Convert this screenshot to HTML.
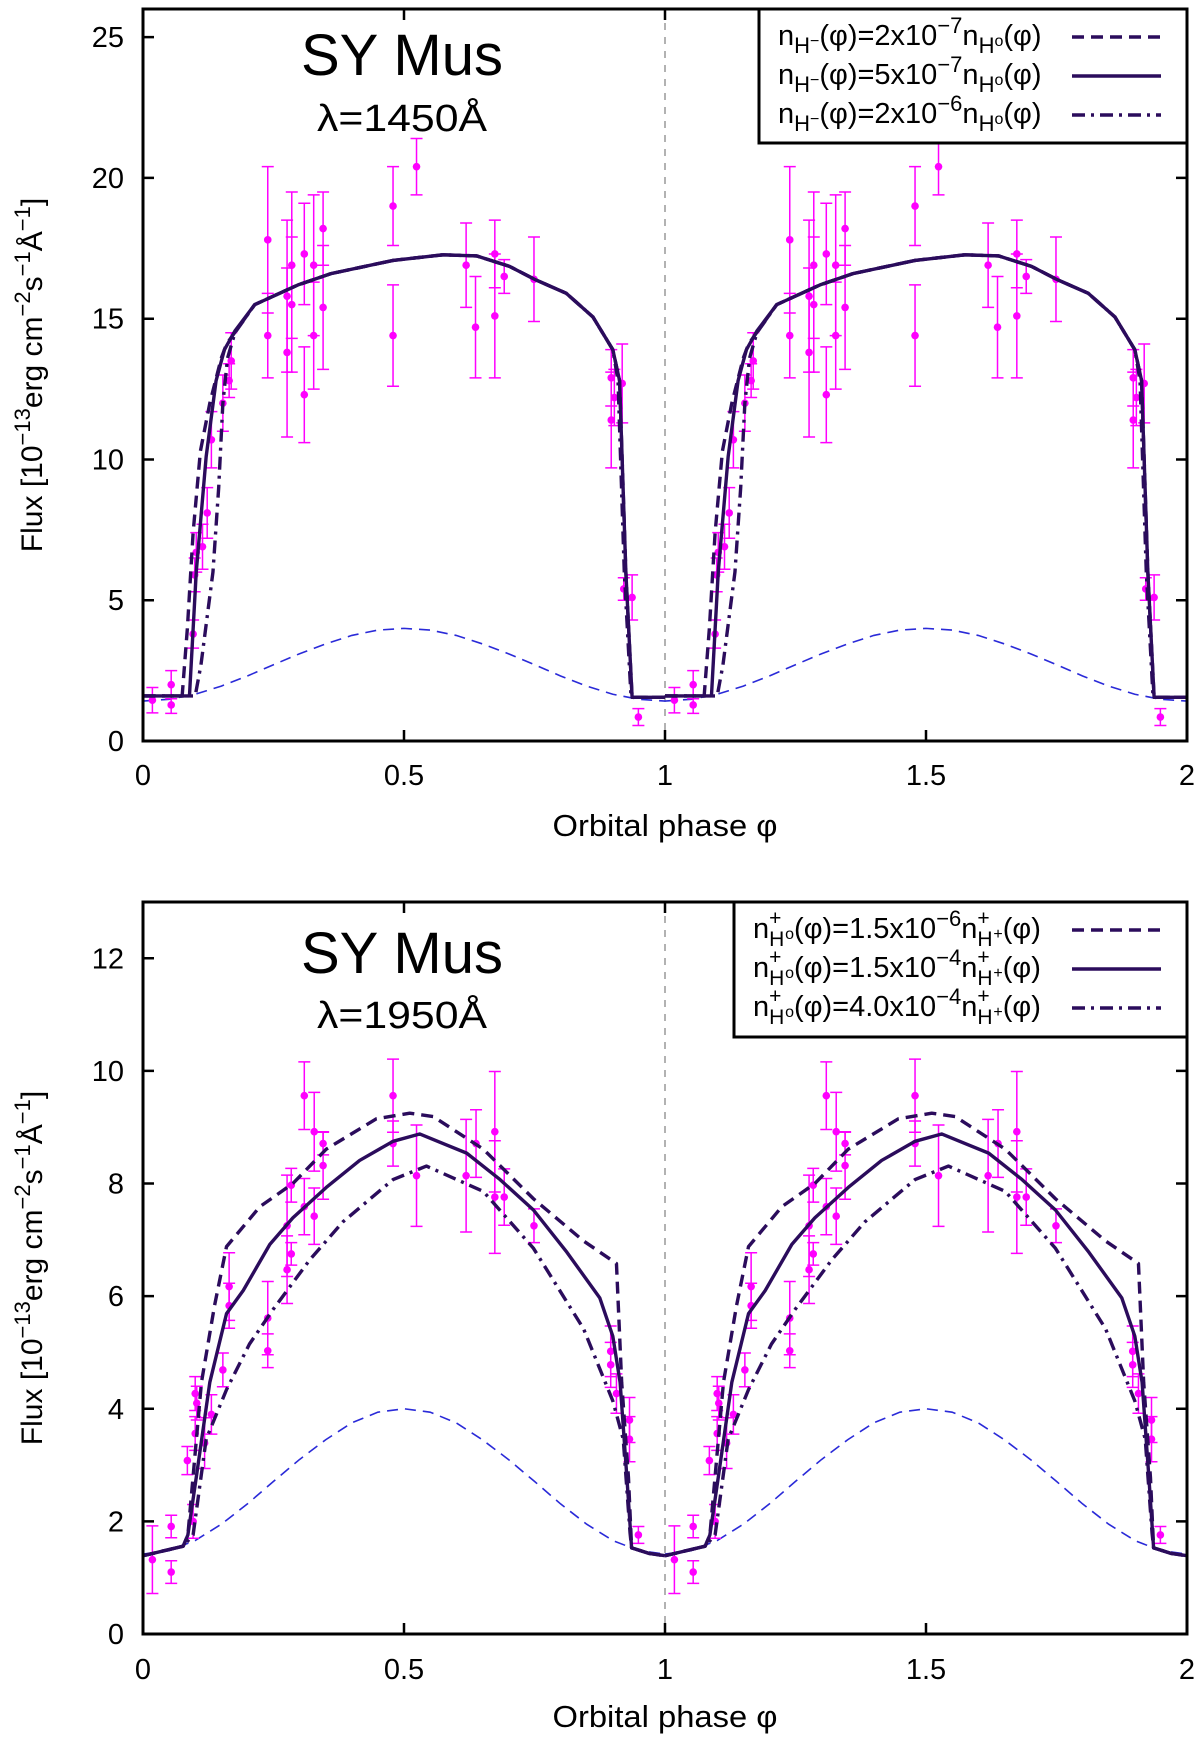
<!DOCTYPE html>
<html><head><meta charset="utf-8">
<style>
html,body{margin:0;padding:0;background:#fff;}
#wrap{position:relative;width:1200px;height:1740px;overflow:hidden;font-family:"Liberation Sans",sans-serif;}
svg{position:absolute;left:0;top:0;}
.leg{position:absolute;font-size:29px;line-height:29px;white-space:nowrap;color:#000;}
.leg sub{font-size:22px;vertical-align:-8px;line-height:0;}
.leg sup{font-size:22px;vertical-align:12px;line-height:0;}
.stk{display:inline-block;position:relative;width:16px;height:10px;}
.stk .p{position:absolute;left:0;top:-24px;font-size:21px;}
.stk .h{position:absolute;left:0;top:-3px;font-size:21px;}
</style></head>
<body>
<div id="wrap">
<svg id="chart" width="1200" height="1740" viewBox="0 0 1200 1740"></svg>

<div class="leg" style="left:778px;top:22px;">n<sub>H<sup style="font-size:16px;vertical-align:7px">−</sup></sub>(φ)=2x10<sup>−7</sup>n<sub>H<sup style="font-size:16px;vertical-align:7px">o</sup></sub>(φ)</div>
<div class="leg" style="left:778px;top:61px;">n<sub>H<sup style="font-size:16px;vertical-align:7px">−</sup></sub>(φ)=5x10<sup>−7</sup>n<sub>H<sup style="font-size:16px;vertical-align:7px">o</sup></sub>(φ)</div>
<div class="leg" style="left:778px;top:100px;">n<sub>H<sup style="font-size:16px;vertical-align:7px">−</sup></sub>(φ)=2x10<sup>−6</sup>n<sub>H<sup style="font-size:16px;vertical-align:7px">o</sup></sub>(φ)</div>

<div class="leg" style="left:753px;top:915px;">n<span class="stk"><span class="p">+</span><span class="h">H</span></span><sup style="font-size:16px;vertical-align:-1px">o</sup>(φ)=1.5x10<sup>−6</sup>n<span class="stk"><span class="p">+</span><span class="h">H</span></span><sup style="font-size:16px;vertical-align:-1px">+</sup>(φ)</div>
<div class="leg" style="left:753px;top:954px;">n<span class="stk"><span class="p">+</span><span class="h">H</span></span><sup style="font-size:16px;vertical-align:-1px">o</sup>(φ)=1.5x10<sup>−4</sup>n<span class="stk"><span class="p">+</span><span class="h">H</span></span><sup style="font-size:16px;vertical-align:-1px">+</sup>(φ)</div>
<div class="leg" style="left:753px;top:993px;">n<span class="stk"><span class="p">+</span><span class="h">H</span></span><sup style="font-size:16px;vertical-align:-1px">o</sup>(φ)=4.0x10<sup>−4</sup>n<span class="stk"><span class="p">+</span><span class="h">H</span></span><sup style="font-size:16px;vertical-align:-1px">+</sup>(φ)</div>
</div>

<script>
// ---------- DATA (one orbital period, repeated at phase+1) ----------
const xTicks = [0, 0.5, 1, 1.5, 2];
const xTickLabels = ["0", "0.5", "1", "1.5", "2"];
const topYTicks = [0, 5, 10, 15, 20, 25];
const botYTicks = [0, 2, 4, 6, 8, 10, 12];

// Blue dashed reference curve (same in both panels)
const bluePhase = [0,0.05,0.1,0.15,0.2,0.25,0.3,0.35,0.4,0.45,0.5,0.55,0.6,0.65,0.7,0.75,0.8,0.85,0.9,0.95,1];
const blueFlux  = [1.42,1.48,1.66,1.95,2.31,2.71,3.1,3.45,3.75,3.94,4.0,3.94,3.75,3.45,3.1,2.71,2.31,1.95,1.66,1.48,1.42];

// Top panel (λ=1450Å) models
const topDashPhase  = [0,0.075,0.085,0.096,0.11,0.128,0.15,0.16,0.214,0.297,0.36,0.479,0.575,0.639,0.702,0.75,0.811,0.862,0.9,0.913,0.925,0.937,1];
const topDashFlux   = [1.6,1.6,4.0,7.4,10.3,12.0,13.6,14.1,15.5,16.2,16.6,17.07,17.27,17.23,16.86,16.4,15.9,15.06,13.9,12.8,6.0,1.55,1.55];
const topSolidPhase = [0,0.089,0.102,0.121,0.14,0.156,0.176,0.214,0.297,0.36,0.479,0.575,0.639,0.702,0.75,0.811,0.862,0.9,0.913,0.925,0.937,1];
const topSolidFlux  = [1.6,1.6,6.0,10.1,12.8,13.9,14.56,15.5,16.2,16.6,17.07,17.27,17.23,16.86,16.4,15.9,15.06,13.9,12.8,6.0,1.55,1.55];
const topDDPhase    = [0,0.1,0.111,0.134,0.145,0.153,0.162,0.176,0.214,0.297,0.36,0.479,0.575,0.639,0.702,0.75,0.811,0.862,0.9,0.91,0.922,0.935,1];
const topDDFlux     = [1.6,1.6,2.7,6.0,9.0,12.0,13.6,14.5,15.5,16.2,16.6,17.07,17.27,17.23,16.86,16.4,15.9,15.06,13.9,12.8,6.0,1.55,1.55];

// Top panel observations
const topObsPhase = [0.018,0.054,0.054,0.096,0.099,0.102,0.114,0.123,0.131,0.153,0.165,0.169,0.239,0.239,0.276,0.276,0.285,0.285,0.309,0.309,0.327,0.327,0.345,0.345,0.479,0.479,0.524,0.619,0.637,0.674,0.674,0.692,0.749,0.897,0.897,0.903,0.918,0.921,0.937,0.949];
const topObsFlux  = [1.45,2.0,1.28,3.8,5.9,6.7,6.9,8.1,10.7,12.0,12.8,13.5,17.8,14.4,15.8,13.8,16.9,15.5,17.3,12.3,16.9,14.4,18.2,15.4,19.0,14.4,20.4,16.9,14.7,17.3,15.1,16.5,16.4,12.9,11.4,12.2,12.7,5.4,5.1,0.85];
const topObsErr   = [0.45,0.5,0.3,0.5,0.6,0.7,0.8,0.9,1.0,1.0,0.6,1.0,2.6,1.5,2.7,3.0,2.6,2.4,1.8,1.7,2.5,1.9,1.3,2.2,1.4,1.8,1.0,1.5,1.8,1.2,2.2,0.6,1.5,1.0,1.7,1.0,1.4,0.4,0.8,0.3];

// Bottom panel (λ=1950Å) models
const botDashPhase  = [0,0.077,0.086,0.112,0.137,0.16,0.224,0.287,0.351,0.447,0.511,0.556,0.652,0.748,0.844,0.907,0.917,0.93,0.936,0.97,1];
const botDashFlux   = [1.39,1.56,1.76,4.47,5.83,6.88,7.59,8.0,8.61,9.15,9.25,9.19,8.61,7.73,6.98,6.58,4.47,2.78,1.53,1.43,1.39];
const botSolidPhase = [0,0.077,0.086,0.102,0.128,0.16,0.192,0.243,0.287,0.351,0.415,0.479,0.53,0.62,0.684,0.748,0.812,0.875,0.9,0.914,0.927,0.936,0.97,1];
const botSolidFlux  = [1.39,1.56,1.76,2.78,4.47,5.69,6.1,6.92,7.39,7.93,8.41,8.75,8.88,8.54,8.07,7.53,6.78,5.97,5.29,4.47,2.78,1.53,1.43,1.39];
const botDDPhase    = [0,0.077,0.096,0.121,0.16,0.204,0.249,0.319,0.383,0.479,0.543,0.652,0.748,0.844,0.9,0.92,0.933,0.936,0.97,1];
const botDDFlux     = [1.39,1.56,1.76,3.46,4.34,5.15,5.76,6.64,7.32,8.07,8.31,7.86,6.85,5.42,4.14,3.46,1.8,1.53,1.43,1.39];

// Bottom panel observations
const botObsPhase = [0.018,0.054,0.054,0.085,0.096,0.100,0.100,0.103,0.118,0.131,0.153,0.165,0.165,0.239,0.239,0.276,0.276,0.284,0.284,0.309,0.309,0.328,0.328,0.345,0.345,0.479,0.479,0.524,0.619,0.638,0.674,0.674,0.692,0.749,0.896,0.896,0.907,0.932,0.932,0.949];
const botObsFlux  = [1.32,1.91,1.1,3.08,2.0,4.27,3.56,4.1,3.39,3.9,4.69,6.17,5.83,5.61,5.03,7.25,6.47,7.97,6.75,9.56,7.59,8.92,7.42,8.71,8.32,9.56,8.71,8.14,8.14,8.71,8.92,7.76,7.76,7.25,5.02,4.78,4.27,3.8,3.46,1.76];
const botObsErr   = [0.6,0.2,0.2,0.25,0.3,0.3,0.3,0.3,0.45,0.35,0.3,0.6,0.4,0.65,0.3,0.9,0.6,0.3,0.2,0.6,0.5,0.7,0.5,0.2,0.6,0.65,0.4,0.9,1.0,0.6,1.07,1.0,0.5,0.3,0.45,0.4,0.35,0.4,0.4,0.15];

// ---------- DRAWING ----------
const NS = "http://www.w3.org/2000/svg";
const svg = document.getElementById("chart");
const FONT = '"Liberation Sans", sans-serif';
const MODEL = "#2b0c5c";
function mk(tag, attrs, parent) {
  const e = document.createElementNS(NS, tag);
  for (const k in attrs) e.setAttribute(k, attrs[k]);
  (parent || svg).appendChild(e);
  return e;
}
const X0 = 143, X1 = 1187;
function xScale(p) { return X0 + (X1 - X0) * p / 2; }

function drawPanel(pre, top, bot, ymax, yTicks, models, obsP, obsF, obsE, title, lam, titleY, lamY, xlabY, xtitleY, legBox, legYs) {
  const yScale = v => bot - (bot - top) * v / ymax;
  const g = mk("g", {});
  
  
  const vl = mk("line", {x1: xScale(1), x2: xScale(1), y1: top, y2: bot, stroke: "#888", "stroke-width": 1.3, "stroke-dasharray": "7,7"}, g);
  
  
  for (let k = 0; k < 2; k++) {
    const pts = bluePhase.map((p, i) => xScale(p + k) + "," + yScale(blueFlux[i])).join(" ");
    const bl = mk("polyline", {points: pts, fill: "none", stroke: "#2a2ad8", "stroke-width": 1.6, "stroke-dasharray": "11,7"}, g);
    
    
  }
  for (let k = 0; k < 2; k++) {
    obsP.forEach((p, i) => {
      const x = xScale(p + k), y = yScale(obsF[i]);
      const yt = Math.max(top, yScale(obsF[i] + obsE[i])), yb = yScale(obsF[i] - obsE[i]);
      const eb = mk("path", {d: `M${x},${yt}V${yb}M${x-6},${yt}H${x+6}M${x-6},${yb}H${x+6}`, stroke: "#ff00ff", "stroke-width": 1.5, fill: "none"}, g);
      
      
      const c = mk("circle", {cx: x, cy: y, r: 3.8, fill: "#ff00ff"}, g);
      
      
    });
  }
  const styles = ["12,7", "", "13,6,3,6"];
  const names = ["dashed-model", "solid-model", "dashdot-model"];
  models.forEach((m, j) => {
    for (let k = 0; k < 2; k++) {
      const pts = m[0].map((p, i) => xScale(p + k) + "," + yScale(m[1][i])).join(" ");
      const attrs = {points: pts, fill: "none", stroke: MODEL, "stroke-width": 3.4, "stroke-linejoin": "round"};
      if (styles[j]) attrs["stroke-dasharray"] = styles[j];
      const pl = mk("polyline", attrs, g);
      
      
    }
  });
  const fr = mk("rect", {x: X0, y: top, width: X1 - X0, height: bot - top, fill: "none", stroke: "#000", "stroke-width": 3}, g);
  
  
  xTicks.forEach((t, i) => {
    const x = xScale(t);
    const tk = mk("path", {d: `M${x},${bot}v-11M${x},${top}v11`, stroke: "#000", "stroke-width": 2.5}, g);
    
    
    const tl = mk("text", {x: x, y: xlabY, "font-family": FONT, "font-size": 29, "text-anchor": "middle"}, g);
    tl.textContent = xTickLabels[i];
    
    
  });
  yTicks.forEach(t => {
    const y = yScale(t);
    const tk = mk("path", {d: `M${X0},${y}h11M${X1},${y}h-11`, stroke: "#000", "stroke-width": 2.5}, g);
    
    
    const tl = mk("text", {x: 124, y: y + 10, "font-family": FONT, "font-size": 29, "text-anchor": "end"}, g);
    tl.textContent = String(t);
    
    
  });
  const xt = mk("text", {x: xScale(1), y: xtitleY, "font-family": FONT, "font-size": 31, "text-anchor": "middle", textLength: 225, lengthAdjust: "spacingAndGlyphs"}, g);
  xt.textContent = "Orbital phase φ";
  
  
  const cy = (top + bot) / 2;
  const yt = mk("text", {x: 0, y: 0, "font-family": FONT, "font-size": 30, "text-anchor": "middle", transform: `translate(42,${cy}) rotate(-90)`}, g);
  yt.innerHTML = 'Flux [10<tspan dy="-12" font-size="22">−13</tspan><tspan dy="12">erg cm</tspan><tspan dy="-12" font-size="22">−2</tspan><tspan dy="12">s</tspan><tspan dy="-12" font-size="22">−1</tspan><tspan dy="12">Å</tspan><tspan dy="-12" font-size="22">−1</tspan><tspan dy="12">]</tspan>';
  
  
  const t1 = mk("text", {x: 402, y: titleY, "font-family": FONT, "font-size": 58, "text-anchor": "middle"}, g);
  t1.textContent = title;
  
  
  const t2 = mk("text", {x: 402, y: lamY, "font-family": FONT, "font-size": 38, "text-anchor": "middle", textLength: 170, lengthAdjust: "spacingAndGlyphs"}, g);
  t2.textContent = lam;
  
  
  const lb = mk("rect", {x: legBox[0], y: legBox[1], width: legBox[2], height: legBox[3], fill: "#fff", stroke: "#000", "stroke-width": 3}, g);
  
  
  legYs.forEach((y, j) => {
    const attrs = {x1: 1072, x2: 1161, y1: y, y2: y, stroke: MODEL, "stroke-width": 3.4};
    if (styles[j]) attrs["stroke-dasharray"] = styles[j];
    const ls = mk("line", attrs, g);
    
    
  });
  const edge = mk("path", {d: `M${legBox[0]},${top}H${X1}V${legBox[1]+legBox[3]}`, stroke: "#000", "stroke-width": 3, fill: "none"}, g);
  
  
}

drawPanel("top", 9, 741, 26, topYTicks,
  [[topDashPhase, topDashFlux], [topSolidPhase, topSolidFlux], [topDDPhase, topDDFlux]],
  topObsPhase, topObsFlux, topObsErr, "SY Mus", "λ=1450Å", 75, 131, 785, 836,
  [759, 9, 428, 134], [37, 76, 115]);
drawPanel("bottom", 902, 1634, 13, botYTicks,
  [[botDashPhase, botDashFlux], [botSolidPhase, botSolidFlux], [botDDPhase, botDDFlux]],
  botObsPhase, botObsFlux, botObsErr, "SY Mus", "λ=1950Å", 973, 1028, 1679, 1727,
  [734, 902, 453, 135], [930, 969, 1008]);
</script>
</body></html>
